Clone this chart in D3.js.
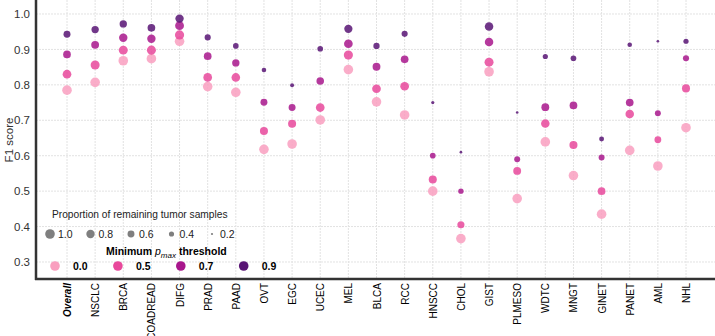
<!DOCTYPE html>
<html>
<head>
<meta charset="utf-8">
<script src="https://cdn.jsdelivr.net/npm/d3@7"></script>
<style>
	body { margin: 0; background: #fff; }
	text { font-family: 'Liberation Sans', Arial, sans-serif; }
</style>
</head>
<body>
<div id="chart"></div>
<script>
// F1 score by tumor type for several p_max thresholds

var categories = ['Overall', 'NSCLC', 'BRCA', 'COADREAD', 'DIFG', 'PRAD', 'PAAD', 'OVT', 'EGC', 'UCEC', 'MEL',
	'BLCA', 'RCC', 'HNSCC', 'CHOL', 'GIST', 'PLMESO', 'WDTC', 'MNGT', 'GINET', 'PANET', 'AML', 'NHL'];

var thresholds = ['0.0', '0.5', '0.7', '0.9'];

// F1 score per threshold
var f1_00 = [0.785, 0.807, 0.868, 0.874, 0.923, 0.795, 0.779, 0.618, 0.633, 0.701, 0.843,
	0.752, 0.715, 0.500, 0.366, 0.837, 0.479, 0.639, 0.544, 0.435, 0.615, 0.571, 0.679];
var f1_05 = [0.830, 0.856, 0.898, 0.898, 0.941, 0.821, 0.821, 0.670, 0.690, 0.736, 0.884,
	0.789, 0.796, 0.533, 0.405, 0.864, 0.557, 0.691, 0.630, 0.500, 0.718, 0.645, 0.790];
var f1_07 = [0.886, 0.913, 0.933, 0.930, 0.967, 0.881, 0.862, 0.751, 0.736, 0.811, 0.916,
	0.851, 0.872, 0.600, 0.500, 0.921, 0.590, 0.737, 0.742, 0.595, 0.750, 0.720, 0.875];
var f1_09 = [0.943, 0.956, 0.972, 0.961, 0.987, 0.934, 0.910, 0.842, 0.799, 0.902, 0.958,
	0.910, 0.944, 0.750, 0.610, 0.965, 0.722, 0.880, 0.875, 0.647, 0.913, 0.923, 0.923];

// proportion of remaining tumor samples per threshold
var prop_00 = [1, 1, 1, 1, 1, 1, 1, 1, 1, 1, 1, 1, 1, 1, 1, 1, 1, 1, 1, 1, 1, 1, 1];
var prop_05 = [0.85, 0.9, 0.88, 0.9, 0.93, 0.85, 0.83, 0.75, 0.75, 0.85, 0.92,
	0.85, 0.85, 0.75, 0.62, 0.9, 0.72, 0.82, 0.75, 0.7, 0.82, 0.58, 0.75];
var prop_07 = [0.7, 0.72, 0.8, 0.8, 0.87, 0.7, 0.65, 0.6, 0.6, 0.68, 0.85,
	0.72, 0.7, 0.45, 0.42, 0.82, 0.48, 0.72, 0.7, 0.48, 0.7, 0.48, 0.5];
var prop_09 = [0.6, 0.65, 0.65, 0.7, 0.8, 0.5, 0.45, 0.35, 0.3, 0.45, 0.78,
	0.52, 0.5, 0.25, 0.22, 0.82, 0.22, 0.4, 0.45, 0.38, 0.35, 0.22, 0.4];

var sizeLegend = [1.0, 0.8, 0.6, 0.4, 0.2];
var yTicks = [0.3, 0.4, 0.5, 0.6, 0.7, 0.8, 0.9, 1.0];

var colors = ['#f99fbf', '#e8489b', '#a8168c', '#581474'];

var width = 715,
	height = 336,
	margin = { top: 0, bottom: 57, left: 36, right: 0 },
	drawHeight = height - margin.top - margin.bottom;

var f1 = [f1_00, f1_05, f1_07, f1_09];
var prop = [prop_00, prop_05, prop_07, prop_09];

var points = [];
thresholds.forEach(function(t, i) {
	categories.forEach(function(c, j) {
		points.push({ cat: c, t: i, f1: f1[i][j], prop: prop[i][j] });
	});
});

var svg = d3.select('#chart').append('svg')
	.attr('width', width)
	.attr('height', height);

var xScale = d3.scalePoint()
	.domain(categories)
	.range([67, 686]);

var yScale = d3.scaleLinear()
	.domain([0.252, 1.0395])
	.range([drawHeight, margin.top]);

var rScale = d3.scaleRadial()
	.domain([0.2, 1])
	.range([1.1, 4.8]);

// grid
var grid = svg.append('g');
grid.selectAll('.hgrid').data(yTicks).enter().append('line')
	.attr('x1', margin.left).attr('x2', width)
	.attr('y1', function(d) { return yScale(d); })
	.attr('y2', function(d) { return yScale(d); })
	.attr('stroke', '#e2e2e2').attr('stroke-width', 1)
	.attr('stroke-dasharray', '2,1');
grid.selectAll('.vgrid').data(categories).enter().append('line')
	.attr('x1', function(d) { return xScale(d); })
	.attr('x2', function(d) { return xScale(d); })
	.attr('y1', 0).attr('y2', drawHeight)
	.attr('stroke', '#e2e2e2').attr('stroke-width', 1)
	.attr('stroke-dasharray', '2,1');

// points
svg.append('g').selectAll('circle').data(points).enter().append('circle')
	.attr('cx', function(d) { return xScale(d.cat); })
	.attr('cy', function(d) { return yScale(d.f1); })
	.attr('r', function(d) { return rScale(d.prop); })
	.attr('fill', function(d) { return colors[d.t]; })
	.attr('fill-opacity', 0.85);

// axes
var yAxis = d3.axisLeft(yScale).tickValues(yTicks).tickFormat(d3.format('.1f')).tickSize(0).tickPadding(6);
var yAxisG = svg.append('g')
	.attr('transform', 'translate(' + margin.left + ',0)')
	.call(yAxis);
yAxisG.select('.domain').remove();
yAxisG.selectAll('text').attr('font-size', 11.5).attr('fill', '#333');

var xAxis = d3.axisBottom(xScale).tickSize(0).tickPadding(0);
var xAxisG = svg.append('g')
	.attr('transform', 'translate(0,' + drawHeight + ')')
	.call(xAxis);
xAxisG.select('.domain').remove();
xAxisG.selectAll('text')
	.attr('font-size', 10)
	.attr('fill', '#000')
	.attr('text-anchor', 'end')
	.attr('transform', 'rotate(-90)')
	.attr('x', -4)
	.attr('y', 0)
	.attr('dy', '0.35em')
	.attr('font-weight', function(d) { return d === 'Overall' ? 'bold' : 'normal'; })
	.attr('font-style', function(d) { return d === 'Overall' ? 'italic' : 'normal'; });

svg.append('line')
	.attr('x1', margin.left).attr('x2', margin.left)
	.attr('y1', 0).attr('y2', drawHeight + 1)
	.attr('stroke', '#333').attr('stroke-width', 2.5);
svg.append('line')
	.attr('x1', margin.left - 1).attr('x2', width)
	.attr('y1', drawHeight).attr('y2', drawHeight)
	.attr('stroke', '#333').attr('stroke-width', 2.5);

svg.append('text')
	.attr('transform', 'translate(13,' + 140 + ') rotate(-90)')
	.attr('text-anchor', 'middle')
	.attr('font-size', 11.5)
	.attr('fill', '#333')
	.text('F1 score');

// legend: size
var legend = svg.append('g');
legend.append('text')
	.attr('x', 52).attr('y', 218)
	.attr('font-size', 10.2)
	.attr('fill', '#222')
	.text('Proportion of remaining tumor samples');

var sizeX = d3.scalePoint().domain(sizeLegend).range([50, 212]);
var sizeG = legend.selectAll('.size').data(sizeLegend).enter().append('g')
	.attr('transform', function(d) { return 'translate(' + sizeX(d) + ',234)'; });
sizeG.append('circle')
	.attr('r', function(d) { return rScale(d); })
	.attr('fill', '#7f7f7f');
sizeG.append('text')
	.attr('x', 8).attr('dy', '0.35em')
	.attr('font-size', 10.5)
	.attr('fill', '#222')
	.text(function(d) { return d3.format('.1f')(d); });

// legend: colour
var title = legend.append('text')
	.attr('x', 106).attr('y', 255)
	.attr('font-size', 10.5)
	.attr('font-weight', 'bold')
	.attr('fill', '#000');
title.append('tspan').text('Minimum ');
title.append('tspan').attr('font-style', 'italic').attr('font-weight', 'normal').text('p');
title.append('tspan').attr('font-style', 'italic').attr('font-weight', 'normal')
	.attr('font-size', 8).attr('dy', 3).text('max');
title.append('tspan').attr('dy', -3).text(' threshold');

var colX = d3.scalePoint().domain(thresholds).range([55, 243.7]);
var colG = legend.selectAll('.col').data(thresholds).enter().append('g')
	.attr('transform', function(d) { return 'translate(' + colX(d) + ',266)'; });
colG.append('circle')
	.attr('r', 4.8)
	.attr('fill', function(d, i) { return colors[i]; });
colG.append('text')
	.attr('x', 18).attr('dy', '0.35em')
	.attr('font-size', 10.5)
	.attr('font-weight', 'bold')
	.attr('fill', '#000')
	.text(function(d) { return d; });
</script>
</body>
</html>
